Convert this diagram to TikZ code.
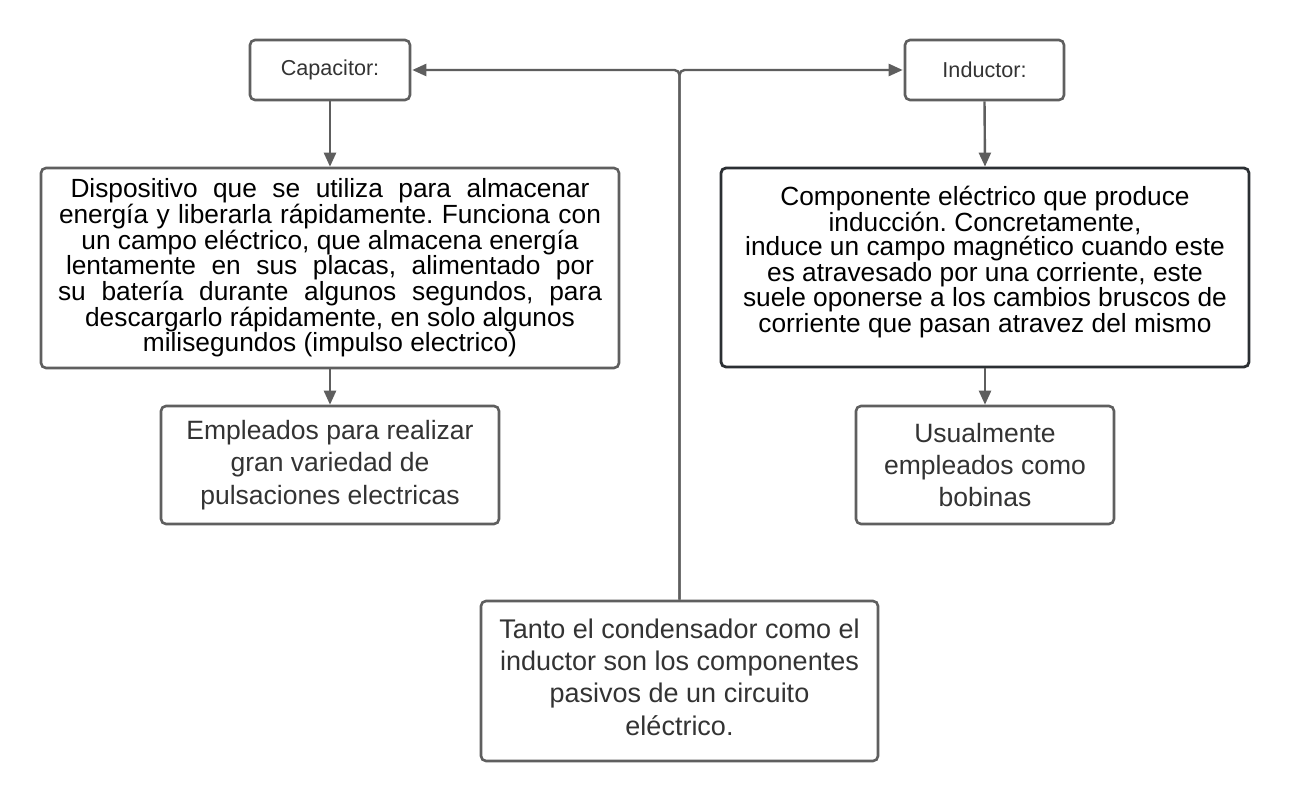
\documentclass[tikz,border=0pt]{standalone}
\usepackage{fontspec}
\setmainfont{Liberation Sans}
\usetikzlibrary{arrows.meta}
\definecolor{boxgray}{HTML}{5F5F5F}
\definecolor{linegray}{HTML}{5E5E5E}
\definecolor{txtgray}{HTML}{333333}
\definecolor{darkborder}{HTML}{2B2F33}
\frenchspacing
\begin{document}
\begin{tikzpicture}[x=1pt,y=-1pt,
  box/.style={draw=boxgray, line width=2.6pt, rounded corners=5pt, fill=white,
    inner sep=0pt, align=center, anchor=center},
  darkbox/.style={box, draw=darkborder, line width=2.8pt},
  txt/.style={inner sep=0pt, align=center, anchor=center},
  small/.style={font=\fontsize{21.6}{26}\selectfont\frenchspacing, text=txtgray},
  desc/.style={font=\fontsize{26.3}{24}\selectfont\frenchspacing, text=black},
  big/.style={font=\fontsize{26.5}{32.3}\selectfont\frenchspacing, text=txtgray},
  conn/.style={draw=linegray, line width=2.4pt, -{Triangle[length=14pt,width=12pt]}}
]
\useasboundingbox (0,0) rectangle (1290,802);
\fill[white] (0,0) rectangle (1290,802);

\node[box, small, minimum width=160pt, minimum height=60pt] (cap) at (330,70) {Capacitor:};
\node[box, small, minimum width=159pt, minimum height=60pt] (ind) at (984.5,70) {Inductor:};

\node[box, desc, minimum width=578pt, minimum height=200pt] (capd) at (330,268) {%
\makebox[519pt][s]{Dispositivo que se utiliza para almacenar}\\
\makebox[542pt][s]{energía y liberarla rápidamente. Funciona con}\\
un campo eléctrico, que almacena energía\\
\makebox[528pt][s]{lentamente en sus placas, alimentado por}\\
\makebox[544pt][s]{su batería durante algunos segundos, para}\\
descargarlo rápidamente, en solo algunos\\
milisegundos (impulso electrico)};

\node[darkbox, minimum width=528pt, minimum height=199pt] (indd) at (985,267.5) {};
\node[txt, desc] (inddtext) at (985,262) {%
Componente eléctrico que produce\\
inducción. Concretamente,\\
induce un campo magnético cuando este\\
es atravesado por una corriente, este\\
suele oponerse a los cambios bruscos de\\
corriente que pasan atravez del mismo};

\node[box, big, minimum width=338pt, minimum height=118pt] (emp) at (330,465) {%
Empleados para realizar\\ gran variedad de\\ pulsaciones electricas};
\node[box, big, minimum width=258pt, minimum height=118pt] (usu) at (985,465) {%
Usualmente\\ empleados como\\ bobinas};

\node[box, minimum width=397pt, minimum height=160pt] (bot) at (679.5,681) {};
\node[txt, big, font=\fontsize{27}{32.3}\selectfont\frenchspacing] (bottext) at (679.5,677) {%
Tanto el condensador como el\\ inductor son los componentes\\ pasivos de un circuito\\ eléctrico.};

% connectors
\draw[conn, rounded corners=5pt, shorten >=1pt] (bot.north) |- (cap.east);
\draw[conn, rounded corners=5pt, shorten >=1pt] (bot.north) |- (ind.west);
\draw[conn] (cap.south) -- (capd.north);
\draw[conn] (ind.south) -- (indd.north);
\draw[conn] (capd.south) -- (emp.north);
\draw[conn] (indd.south) -- (usu.north);
\end{tikzpicture}
\end{document}
